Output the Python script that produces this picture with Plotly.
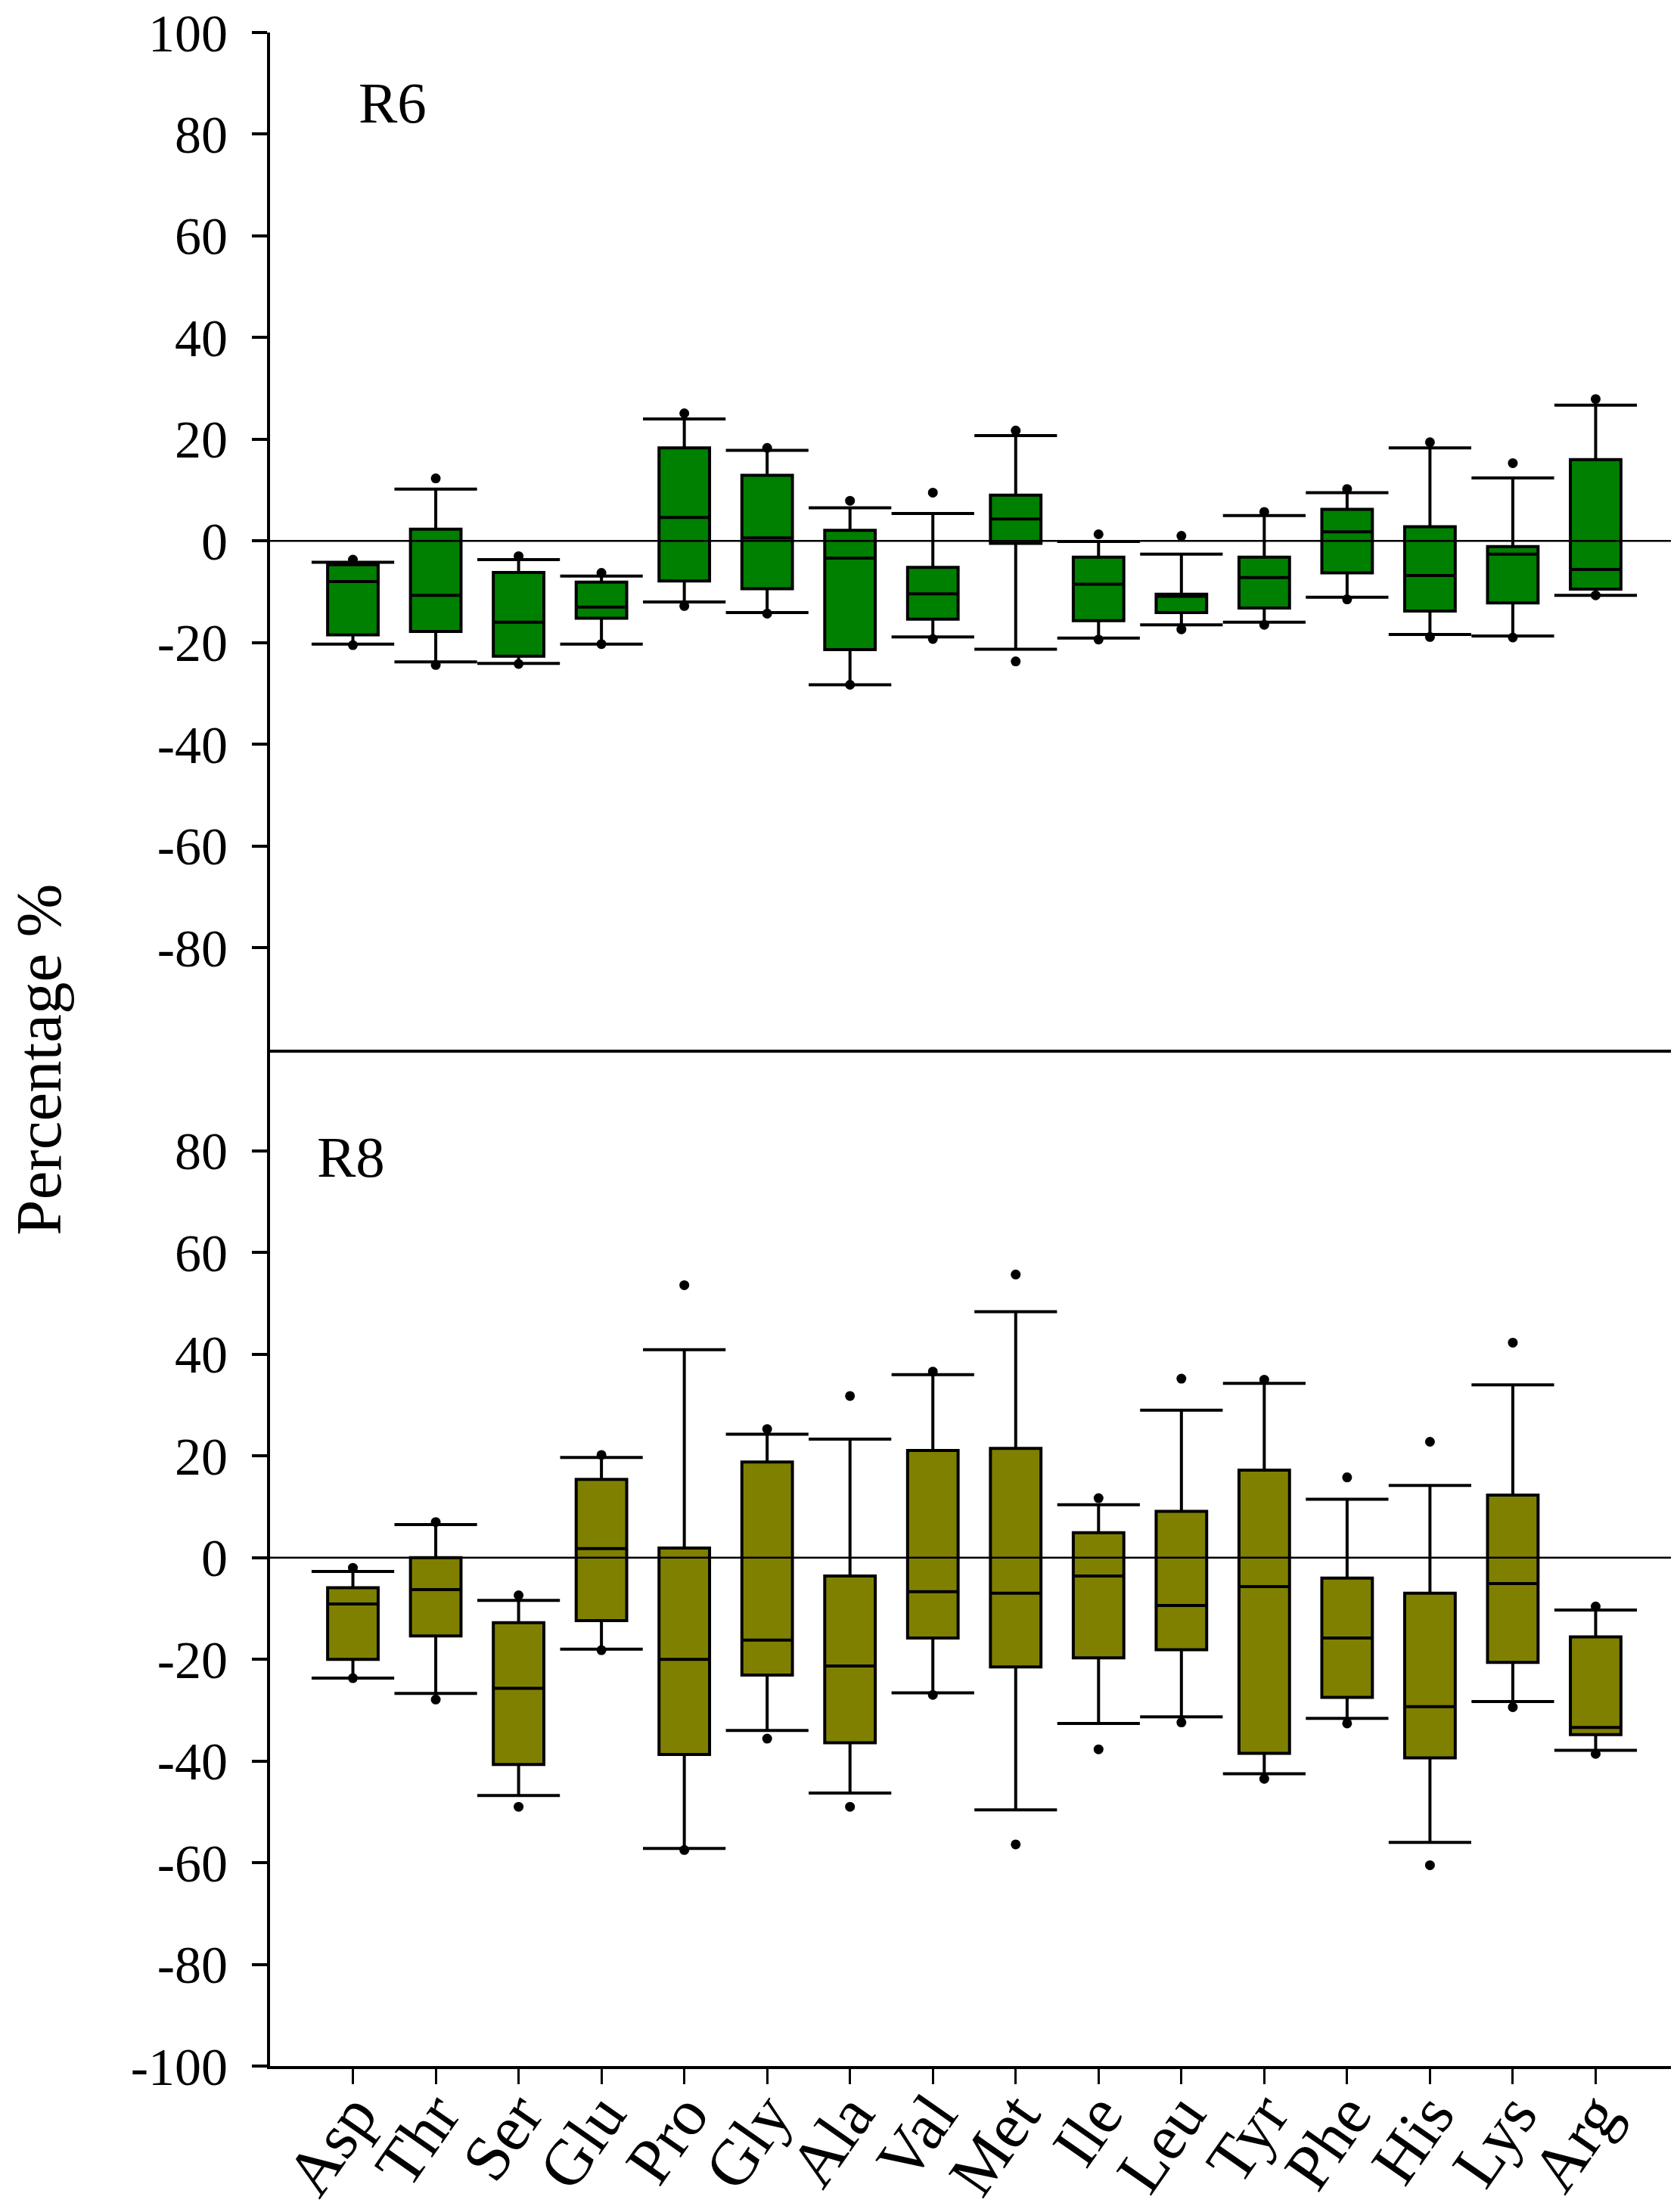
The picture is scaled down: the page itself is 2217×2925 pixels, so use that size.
import plotly.graph_objects as go
from plotly.subplots import make_subplots

# amino acids on the x axis
amino_acids = ['Asp', 'Thr', 'Ser', 'Glu', 'Pro', 'Gly', 'Ala', 'Val',
               'Met', 'Ile', 'Leu', 'Tyr', 'Phe', 'His', 'Lys', 'Arg']

# R6 panel: whiskers (10th/90th), box (25th/50th/75th), dots (5th/95th)
r6_low_whisker = [-20.3, -23.8, -24.1, -20.3, -12.0, -14.1, -28.3, -18.9,
                  -21.3, -19.1, -16.5, -16.0, -11.1, -18.4, -18.7, -10.7]
r6_q1 = [-18.5, -17.8, -22.7, -15.2, -7.9, -9.4, -21.4, -15.4,
         -0.5, -15.7, -14.1, -13.2, -6.3, -13.8, -12.2, -9.5]
r6_median = [-8.0, -10.7, -16.0, -13.0, 4.6, 0.6, -3.4, -10.4,
             4.3, -8.5, -10.9, -7.2, 1.8, -6.8, -2.6, -5.6]
r6_q3 = [-4.7, 2.3, -6.2, -8.1, 18.3, 12.9, 2.1, -5.2,
         9.0, -3.2, -10.5, -3.2, 6.2, 2.8, -1.1, 16.0]
r6_high_whisker = [-4.2, 10.2, -3.7, -6.9, 24.0, 17.8, 6.5, 5.4,
                   20.7, -0.1, -2.6, 5.0, 9.5, 18.3, 12.4, 26.7]
r6_low_dot = [-20.5, -24.4, -24.2, -20.3, -12.8, -14.3, -28.3, -19.3,
              -23.7, -19.4, -17.4, -16.5, -11.5, -18.9, -19.0, -10.7]
r6_high_dot = [-3.7, 12.3, -3.0, -6.3, 25.1, 18.3, 7.9, 9.5,
               21.7, 1.3, 1.0, 5.7, 10.2, 19.4, 15.3, 27.9]

# R8 panel
r8_low_whisker = [-23.7, -26.7, -46.8, -18.0, -57.2, -34.0, -46.3, -26.6,
                  -49.6, -32.6, -31.3, -42.5, -31.6, -56.0, -28.3, -37.9]
r8_q1 = [-20.0, -15.4, -40.7, -12.4, -38.7, -23.1, -36.4, -15.8,
         -21.5, -19.7, -18.1, -38.5, -27.5, -39.4, -20.6, -34.8]
r8_median = [-9.1, -6.3, -25.7, 1.8, -20.0, -16.2, -21.3, -6.7,
             -7.0, -3.6, -9.4, -5.7, -15.8, -29.3, -5.1, -33.4]
r8_q3 = [-5.9, 0.0, -12.8, 15.4, 1.9, 18.8, -3.6, 21.1,
         21.5, 4.9, 9.1, 17.2, -4.0, -7.0, 12.3, -15.6]
r8_high_whisker = [-2.7, 6.5, -8.4, 19.7, 40.9, 24.3, 23.3, 36.0,
                   48.4, 10.4, 29.0, 34.3, 11.5, 14.2, 34.0, -10.3]
r8_low_dot = [-23.7, -27.9, -49.0, -18.2, -57.5, -35.6, -49.0, -27.0,
              -56.4, -37.7, -32.4, -43.5, -32.6, -60.5, -29.4, -38.6]
r8_high_dot = [-2.0, 7.0, -7.4, 20.2, 53.6, 25.3, 31.8, 36.6,
               55.7, 11.7, 35.2, 35.0, 15.8, 22.8, 42.3, -9.6]

# y tick values per panel (hyphen minus like the original)
r6_ticks = [-80, -60, -40, -20, 0, 20, 40, 60, 80, 100]
r8_ticks = [-100, -80, -60, -40, -20, 0, 20, 40, 60, 80]

FONT = 'Liberation Serif'


def add_panel(fig, row, fill, low_w, q1, med, q3, high_w, low_dot, high_dot):
    """Add one panel of SigmaPlot-style box plots."""
    fig.add_trace(go.Box(x=amino_acids, q1=q1, median=med, q3=q3,
                         lowerfence=low_w, upperfence=high_w,
                         boxpoints=False, whiskerwidth=0, width=0.61,
                         fillcolor=fill, line=dict(color='black', width=4),
                         showlegend=False, hoverinfo='skip'),
                  row=row, col=1)
    # whisker caps
    for vals in (low_w, high_w):
        fig.add_trace(go.Scatter(x=amino_acids, y=vals, mode='markers',
                                 marker=dict(symbol='line-ew', size=78,
                                             line=dict(color='black', width=4)),
                                 showlegend=False, hoverinfo='skip'),
                      row=row, col=1)
    # 5th / 95th percentile dots
    for vals in (low_dot, high_dot):
        fig.add_trace(go.Scatter(x=amino_acids, y=vals, mode='markers',
                                 marker=dict(symbol='circle', size=13, color='black'),
                                 showlegend=False, hoverinfo='skip'),
                      row=row, col=1)
    # zero reference line drawn above the boxes
    fig.add_shape(type='line', xref='x domain' if row == 1 else 'x2 domain',
                  yref='y' if row == 1 else 'y2', x0=0, x1=1, y0=0, y1=0,
                  line=dict(color='black', width=2.5), layer='above')


def create_figure():
    fig = make_subplots(rows=2, cols=1, vertical_spacing=0)

    add_panel(fig, 1, '#008000', r6_low_whisker, r6_q1, r6_median, r6_q3,
              r6_high_whisker, r6_low_dot, r6_high_dot)
    add_panel(fig, 2, '#808000', r8_low_whisker, r8_q1, r8_median, r8_q3,
              r8_high_whisker, r8_low_dot, r8_high_dot)

    yaxis_style = dict(range=[-100, 100], showgrid=False, zeroline=False,
                       showline=True, linecolor='black', linewidth=4,
                       ticks='outside', ticklen=20, tickwidth=4, tickcolor='black',
                       tickfont=dict(family=FONT, size=70, color='black'),
                       ticklabeloverflow='allow', ticklabelstandoff=18,
                       automargin=False)
    fig.update_yaxes(tickvals=r6_ticks, ticktext=[str(t) for t in r6_ticks],
                     row=1, col=1, **yaxis_style)
    fig.update_yaxes(tickvals=r8_ticks, ticktext=[str(t) for t in r8_ticks],
                     row=2, col=1, **yaxis_style)

    fig.update_xaxes(range=[-1, 16], showgrid=False, zeroline=False,
                     showline=True, linecolor='black', linewidth=4,
                     categoryorder='array', categoryarray=amino_acids,
                     automargin=False)
    fig.update_xaxes(showticklabels=False, ticks='', row=1, col=1)
    fig.update_xaxes(ticks='outside', ticklen=20, tickwidth=3, tickcolor='black',
                     tickangle=-55, ticklabelstandoff=-45,
                     ticklabeloverflow='allow',
                     tickfont=dict(family=FONT, size=86, color='black'),
                     row=2, col=1)

    fig.add_annotation(text='R6', xref='x domain', yref='y domain', x=0.087, y=0.931,
                       xanchor='center', yanchor='middle', showarrow=False,
                       font=dict(family=FONT, size=77, color='black'))
    fig.add_annotation(text='R8', xref='x2 domain', yref='y2 domain', x=0.0575, y=0.894,
                       xanchor='center', yanchor='middle', showarrow=False,
                       font=dict(family=FONT, size=77, color='black'))
    fig.add_annotation(text='Percentage %', xref='paper', yref='paper',
                       x=-0.1645, y=0.495, textangle=-90, showarrow=False,
                       xanchor='center', yanchor='middle',
                       font=dict(family=FONT, size=85, color='black'))

    fig.update_layout(width=2217, height=2925, template='none',
                      plot_bgcolor='white', paper_bgcolor='white',
                      margin=dict(l=349, r=6, t=35, b=201))
    return fig


def main():
    fig = create_figure()
    fig.write_html("out.html")


if __name__ == "__main__":
    main()
